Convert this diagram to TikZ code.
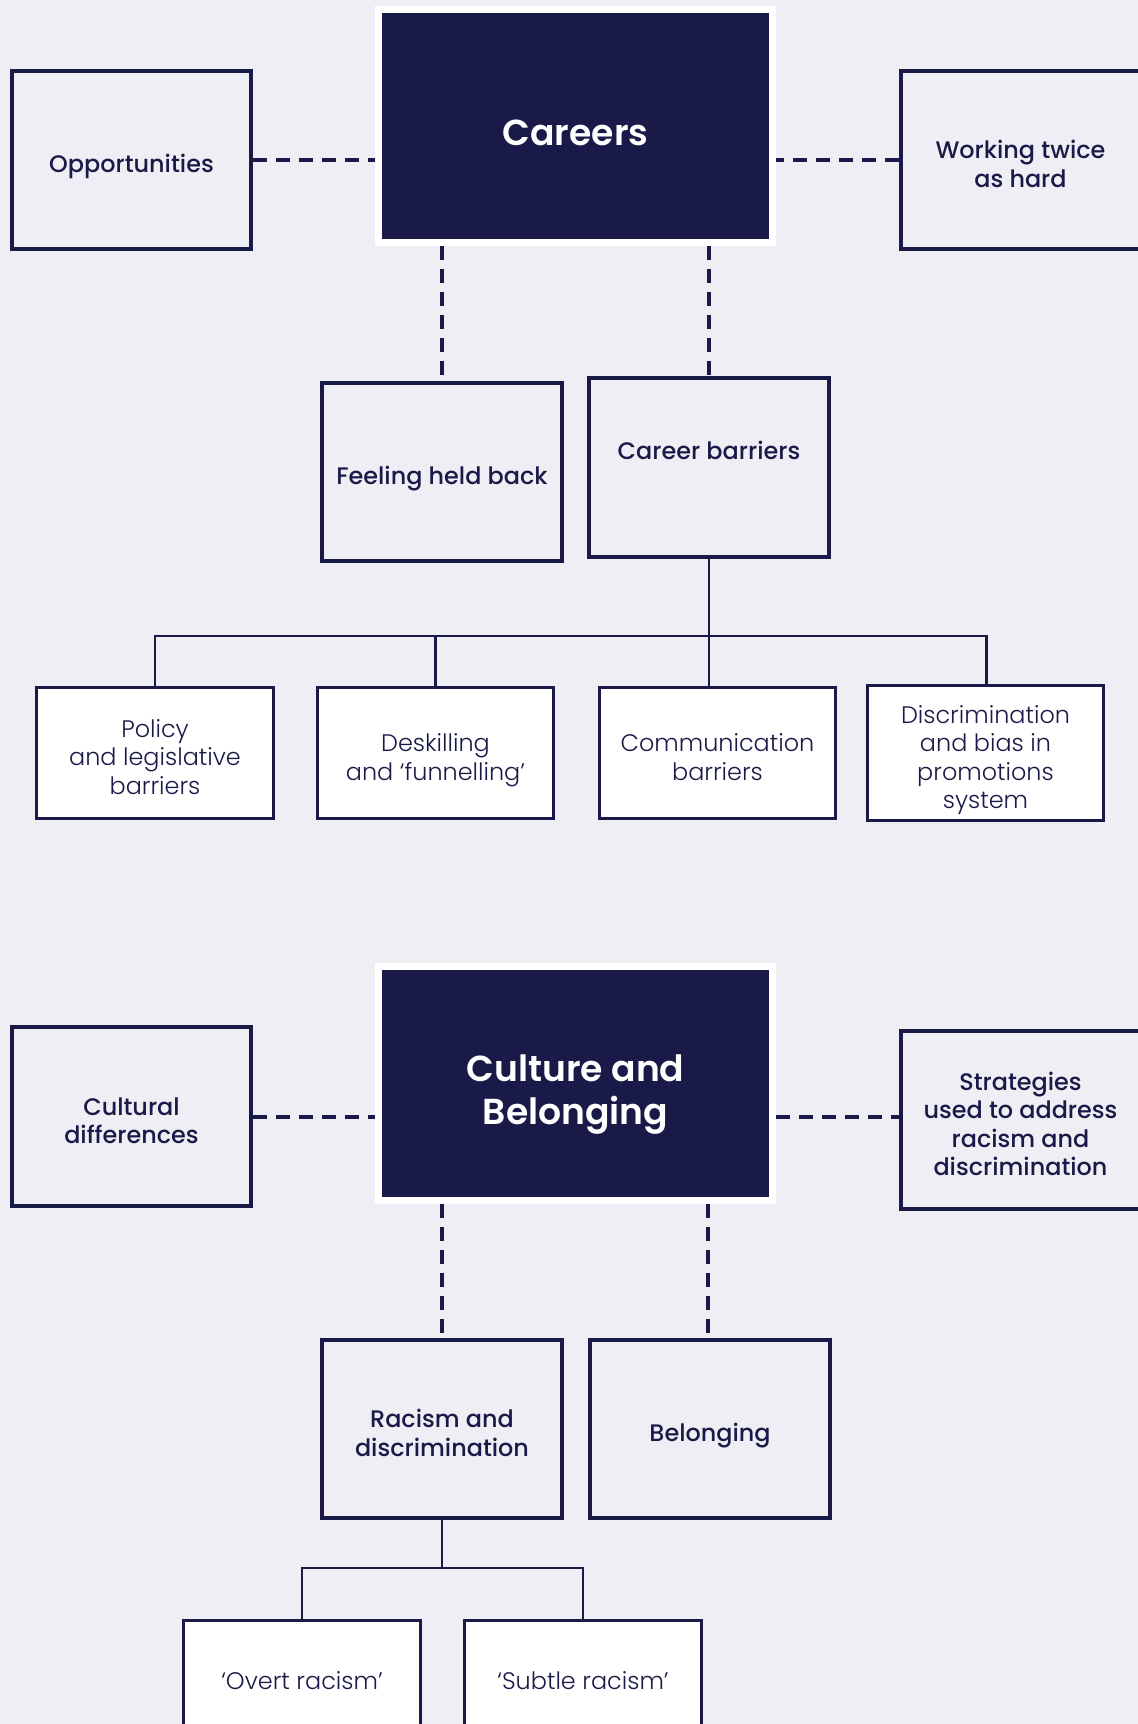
\documentclass[tikz,border=0pt]{standalone}
\usepackage{fontspec}
\setmainfont{Poppins}
\newfontfamily\popmed{Poppins Medium}
\newfontfamily\popsemi{Poppins SemiBold}
\newfontfamily\poplight{Poppins Light}
\definecolor{navy}{HTML}{191A47}
\definecolor{paper}{HTML}{EEEEF4}
\newcommand\fl{\rule{0pt}{1.38em}}

\tikzstyle{mainbox}=[rectangle, draw=white, fill=navy, line width=5pt, minimum width=9.85cm, minimum height=5.825cm, text=white, align=center, font=\popsemi\fontsize{25.7}{30.2}\selectfont, execute at begin node={\fl}, execute at end node={\rule[-7.5pt]{0pt}{0pt}}]
\tikzstyle{topicbox}=[rectangle, draw=navy, line width=2.85pt, minimum width=5.975cm, minimum height=4.45cm, text=navy, align=center, font=\popmed\fontsize{17}{20.3}\selectfont, execute at begin node={\fl}, execute at end node={\rule[-5pt]{0pt}{0pt}}]
\tikzstyle{leafbox}=[rectangle, draw=navy, fill=white, line width=1.9pt, minimum width=5.91cm, minimum height=3.28cm, text=navy, align=center, font=\poplight\fontsize{17}{20.3}\selectfont, execute at begin node={\fl}, execute at end node={\rule[-5pt]{0pt}{0pt}}]
\tikzstyle{dline}=[navy, line width=2.85pt, dash pattern=on 10pt off 6.4pt]
\tikzstyle{tline}=[navy, line width=1.9pt]

\begin{document}
\begin{tikzpicture}[x=0.025cm, y=-0.025cm]

\clip (0,0) rectangle (1138,1724);
\fill [paper] (0,0) rectangle (1138,1724);

% careers
\node [mainbox] (v1) at (575.5,126) {Careers};
\node [topicbox] (v2) at (131.5,160) {Opportunities};
\node [topicbox] (v3) at (1020.5,160) {\fl Working twice\\as hard};
\node [topicbox] (v4) at (442,472) {Feeling held back};
\node [topicbox] (v5) at (709,467.5) {\fl Career barriers\\[10pt]\phantom{C}};
\node [leafbox] (v6) at (155,753) {\fl Policy\\and legislative\\barriers};
\node [leafbox] (v7) at (435.5,753) {\fl Deskilling\\and ‘funnelling’};
\node [leafbox] (v8) at (717.5,753) {\fl Communication\\barriers};
\node [leafbox] (v9) at (985.5,753) {\fl Discrimination\\and bias in\\promotions\\system};
\draw [dline] (v2.east) -- (v2.east -| v1.west);
\draw [dline] (v3.west) -- (v3.west -| v1.east);
\draw [dline] (v4.north |- v1.south) -- (v4.north);
\draw [dline] (v5.north |- v1.south) -- (v5.north);
\draw [tline] (v5.south) -- (709,636);
\draw [tline] (v6.north) |- (986.5,636) -- (986.5,686);
\draw [tline] (v7.north) -- (435.5,636);
\draw [tline] (709,636) -- (709,686);

% culture and belonging
\node [mainbox] (v10) at (575.5,1083.5) {\fl Culture and\\Belonging};
\node [topicbox] (v11) at (131.5,1116.5) {\fl Cultural\\differences};
\node [topicbox] (v12) at (1020.5,1120) {\fl Strategies\\used to address\\racism and\\discrimination};
\node [topicbox] (v13) at (442,1429) {\fl Racism and\\discrimination};
\node [topicbox] (v14) at (710,1429) {Belonging};
\node [leafbox, minimum height=2.78cm] (v15) at (302,1676) {‘Overt racism’};
\node [leafbox, minimum height=2.78cm] (v16) at (583,1676) {‘Subtle racism’};
\draw [dline] (v11.east) -- (v11.east -| v10.west);
\draw [dline] (v10.east |- v11.east) -- (v11.east -| v12.west);
\draw [dline] (v13.north |- v10.south) -- (v13.north);
\draw [dline] (708,1204) -- (708,1337);
\draw [tline] (v13.south) -- (442,1568);
\draw [tline] (v15.north) |- (v16.north |- 442,1568) -- (v16.north);
\end{tikzpicture}
\end{document}
